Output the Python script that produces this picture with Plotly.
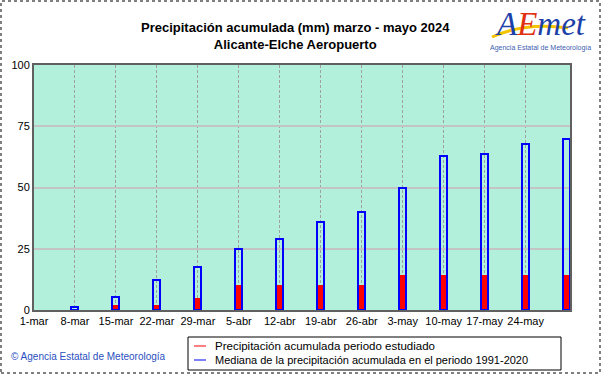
import plotly.graph_objects as go

# ---- data ----
fechas = ["2024-03-08", "2024-03-15", "2024-03-22", "2024-03-29", "2024-04-05",
          "2024-04-12", "2024-04-19", "2024-04-26", "2024-05-03", "2024-05-10",
          "2024-05-17", "2024-05-24", "2024-05-31"]
precip_periodo = [0, 2.1, 2.1, 4.7, 10.4, 10.4, 10.4, 10.4, 14.3, 14.3, 14.3, 14.3, 14.3]
mediana_1991_2020 = [1.2, 5.2, 12.2, 17.7, 25.1, 28.8, 36.0, 40.2, 49.9, 62.8, 63.5, 67.6, 70.0]

tick_fechas = ["2024-03-01", "2024-03-08", "2024-03-15", "2024-03-22", "2024-03-29",
               "2024-04-05", "2024-04-12", "2024-04-19", "2024-04-26", "2024-05-03",
               "2024-05-10", "2024-05-17", "2024-05-24"]
tick_labels = ["1-mar", "8-mar", "15-mar", "22-mar", "29-mar", "5-abr", "12-abr",
               "19-abr", "26-abr", "3-may", "10-may", "17-may", "24-may"]
y_ticks = [0, 25, 50, 75, 100]

W, H = 601, 374
L, R, T, B = 34, 31, 65, 64
PW, PH = W - L - R, H - T - B

def px(x):
    return (x - L) / PW

def py(y):
    return (H - B - y) / PH

DAY = 86400000
bar_w = 1.2 * DAY
FONT = "Liberation Sans, Arial, sans-serif"

fig = go.Figure()
fig.add_trace(go.Bar(x=fechas, y=precip_periodo, width=bar_w,
                     marker=dict(color="#ff0000", line=dict(width=0)),
                     showlegend=False, cliponaxis=False))
fig.add_trace(go.Bar(x=fechas, y=mediana_1991_2020, width=bar_w,
                     marker=dict(color="rgba(0,0,0,0)", line=dict(color="#0000ff", width=2)),
                     showlegend=False, cliponaxis=False))

shapes = []
# outer frame
shapes.append(dict(type="rect", xref="paper", yref="paper",
                   x0=px(1), x1=px(W - 1), y0=py(H - 1), y1=py(1),
                   line=dict(color="#808080", width=2, dash="dot"), layer="below"))
# legend box
shapes.append(dict(type="rect", xref="paper", yref="paper",
                   x0=px(188), x1=px(561), y0=py(370), y1=py(337),
                   line=dict(color="#000000", width=1), fillcolor="white"))
shapes.append(dict(type="line", xref="paper", yref="paper",
                   x0=px(194), x1=px(206), y0=py(346), y1=py(346),
                   line=dict(color="#ff0000", width=1)))
shapes.append(dict(type="line", xref="paper", yref="paper",
                   x0=px(194), x1=px(206), y0=py(360), y1=py(360),
                   line=dict(color="#0000ff", width=1)))
# logo swoosh
shapes.append(dict(type="path", xref="paper", yref="paper",
                   path=f"M {px(492)},{py(37)} Q {px(525)},{py(22)} {px(568)},{py(28)}",
                   line=dict(color="#f5c400", width=3)))

annotations = [
    dict(text="<b>Precipitación acumulada (mm) marzo - mayo 2024</b><br><b>Alicante-Elche Aeropuerto</b>",
         xref="paper", yref="paper", x=px(295), y=py(36), xanchor="center", yanchor="middle",
         showarrow=False, font=dict(family=FONT, size=13, color="#000000"), align="center"),
    dict(text="Precipitación acumulada periodo estudiado", xref="paper", yref="paper",
         x=px(213), y=py(346), xanchor="left", yanchor="middle", showarrow=False,
         font=dict(family=FONT, size=11.5, color="#000000")),
    dict(text="Mediana de la precipitación acumulada en el periodo 1991-2020", xref="paper", yref="paper",
         x=px(213), y=py(360), xanchor="left", yanchor="middle", showarrow=False,
         font=dict(family=FONT, size=11, color="#000000")),
    dict(text="© Agencia Estatal de Meteorología", xref="paper", yref="paper",
         x=px(9), y=py(356), xanchor="left", yanchor="middle", showarrow=False,
         font=dict(family=FONT, size=10, color="#2a4fc0")),
    dict(text="<i>A<span style='color:#e03010'>E</span>met</i>", xref="paper", yref="paper",
         x=px(540), y=py(24), xanchor="center", yanchor="middle", showarrow=False,
         font=dict(family="Liberation Serif, serif", size=33, color="#1d3fa8")),
    dict(text="Agencia Estatal de Meteorología", xref="paper", yref="paper",
         x=px(540), y=py(48), xanchor="center", yanchor="middle", showarrow=False,
         font=dict(family=FONT, size=7, color="#4060b0")),
]

fig.update_layout(
    width=W, height=H,
    margin=dict(l=L, r=R, t=T, b=B, pad=0),
    paper_bgcolor="white", plot_bgcolor="#b2f0dc",
    barmode="overlay", bargap=0,
    showlegend=False,
    shapes=shapes, annotations=annotations,
    font=dict(family=FONT, size=11, color="#000000"),
    xaxis=dict(type="date", range=["2024-03-01", "2024-05-31 14:00"],
               tickvals=tick_fechas, ticktext=tick_labels, ticks="",
               showgrid=True, gridcolor="#a0a0a0", gridwidth=1, griddash="3px,2px",
               showline=True, linecolor="#606060", linewidth=2, mirror=True,
               tickfont=dict(family=FONT, size=11, color="#000000"), zeroline=False),
    yaxis=dict(range=[0, 100], tickvals=y_ticks, ticks="",
               showgrid=True, gridcolor="#c4c4c4", gridwidth=2,
               showline=True, linecolor="#606060", linewidth=2, mirror=True,
               tickfont=dict(family=FONT, size=11, color="#000000"), zeroline=False),
)

fig.write_html("out.html", config={"displayModeBar": False},
               post_script="document.body.style.margin='0';document.body.style.overflow='hidden';")
